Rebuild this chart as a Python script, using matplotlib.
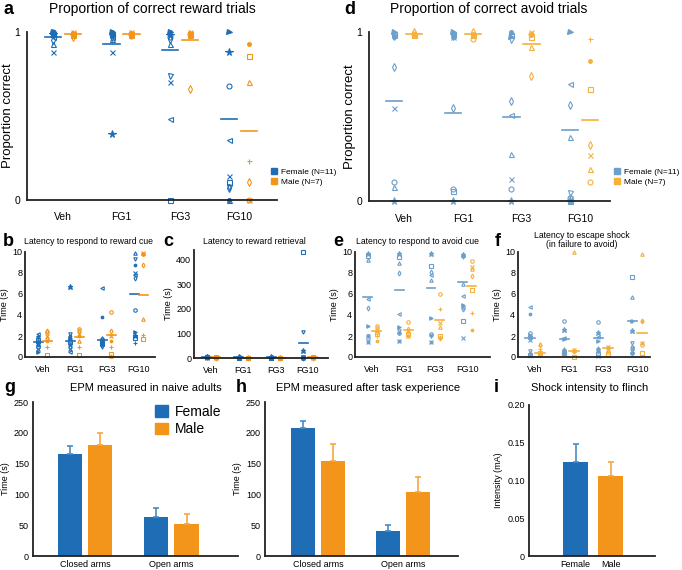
import numpy as np
import matplotlib
matplotlib.use('Agg')
import matplotlib.pyplot as plt
from matplotlib.lines import Line2D
from matplotlib.patches import Patch

plt.rcParams['font.family'] = ['Liberation Sans', 'DejaVu Sans']

W, H = 682, 570

groups = ['Veh', 'FG1', 'FG3', 'FG10']
fem_markers = ['o', '*', '^', 'v', '<', '>', 'd', 's', 'x', '+', '.']
male_markers = ['o', 'x', '^', 'd', 's', '+', '.']
hollow = {'o', '^', 'v', '<', 'd', 's'}

# colours
blue_dk, orange_dk = '#1f6eb5', '#f3951a'
blue_lt, orange_lt = '#6c9fcb', '#f6b03c'

# ---- a: proportion correct reward trials (per animal, per dose)
a_fem = [[1.0, 0.99, 0.93, 0.98, 0.97, 1.0, 0.95, 0.99, 0.88, 0.98, 1.0],
         [0.99, 0.39, 0.96, 0.98, 0.97, 1.0, 0.97, 0.99, 0.88, 0.99, 1.0],
         [0.97, 0.98, 0.93, 0.74, 0.48, 1.0, 0.96, 0.0, 0.70, 0.99, 1.0],
         [0.68, 0.88, 0.0, 0.08, 0.36, 1.0, 0.07, 0.11, 0.14, 0.0, 0.0]]
a_male = [[0.99, 1.0, 0.98, 0.97, 0.99, 1.0, 0.98],
          [0.99, 1.0, 0.98, 0.98, 0.99, 1.0, 0.99],
          [0.99, 1.0, 0.98, 0.66, 0.99, 1.0, 0.98],
          [0.0, 0.0, 0.70, 0.11, 0.86, 0.23, 0.93]]
a_fem_mean = [0.97, 0.93, 0.89, 0.48]
a_male_mean = [0.99, 0.99, 0.95, 0.41]

# ---- d: proportion correct avoid trials
d_fem = [[0.11, 0.0, 0.08, 0.97, 0.98, 1.0, 0.79, 0.99, 0.55, 0.98, 0.97],
         [0.07, 0.0, 0.98, 0.97, 0.99, 1.0, 0.55, 0.06, 0.97, 0.98, 0.99],
         [0.07, 0.0, 0.28, 0.95, 0.51, 0.97, 0.59, 0.98, 0.13, 0.99, 1.0],
         [0.02, 0.0, 0.38, 0.05, 0.69, 1.0, 0.57, 0.0, 0.01, 0.03, 0.0]]
d_male = [[0.99, 0.98, 0.99, 1.0, 0.98, 0.99, 0.98],
          [0.96, 0.98, 0.99, 1.0, 0.98, 0.99, 0.99],
          [0.99, 1.0, 0.91, 0.74, 0.97, 0.99, 0.98],
          [0.11, 0.27, 0.19, 0.33, 0.66, 0.96, 0.83]]
d_fem_mean = [0.59, 0.52, 0.50, 0.42]
d_male_mean = [0.99, 0.99, 0.93, 0.48]

# ---- b: latency to respond to reward cue (s)
b_fem = [[1.0, 1.2, 1.5, 1.8, 2.2, 0.5, 1.4, 1.6, 0.8, 2.0, 1.1],
         [1.5, 6.7, 1.2, 2.2, 0.5, 1.8, 1.0, 1.4, 0.8, 1.7, 2.0],
         [1.5, 1.2, 1.8, 1.0, 6.6, 1.4, 1.7, 1.3, 1.6, 1.1, 3.8],
         [4.5, 2.0, 9.9, 9.3, 7.8, 2.4, 7.5, 1.8, 8.0, 1.3, 8.8]]
b_male = [[2.4, 2.0, 1.8, 2.5, 0.2, 1.0, 1.5],
          [2.7, 2.2, 1.5, 2.5, 0.2, 1.0, 2.0],
          [4.3, 2.0, 0.1, 2.5, 0.3, 1.0, 1.5],
          [9.8, 9.9, 3.6, 8.8, 1.7, 2.1, 9.8]]
b_fem_mean = [1.4, 1.5, 1.6, 6.0]
b_male_mean = [1.5, 1.9, 2.1, 5.9]

# ---- c: latency to reward retrieval (s)
c_fem = [[5, 3, 8, 2, 4, 6, 3, 5, 2, 7, 4],
         [2, 3, 2, 1, 3, 2, 4, 2, 1, 3, 2],
         [2, 3, 2, 1, 3, 2, 4, 2, 1, 3, 2],
         [3, 28, 2, 107, 3, 4, 2, 430, 5, 2, 6]]
c_male = [[3, 2, 4, 2, 3, 1, 2],
          [2, 2, 3, 1, 2, 2, 3],
          [2, 2, 3, 1, 2, 2, 3],
          [3, 2, 4, 2, 3, 2, 3]]
c_fem_mean = [5, 3, 3, 60]
c_male_mean = [3, 2, 2, 3]

# ---- e: latency to respond to avoid cue (s)
e_fem = [[1.8, 9.8, 9.2, 2.0, 5.5, 3.0, 4.7, 9.6, 1.4, 2.0, 1.4],
         [2.3, 9.8, 9.0, 2.5, 4.1, 2.9, 8.0, 9.5, 1.5, 2.3, 1.5],
         [2.2, 9.8, 7.3, 2.0, 7.8, 3.7, 8.1, 8.7, 1.4, 2.0, 1.4],
         [4.8, 9.7, 7.0, 9.5, 5.8, 5.0, 4.6, 3.4, 1.8, 9.6, 9.7]]
e_male = [[3.0, 2.6, 2.4, 2.8, 2.2, 2.0, 1.5],
          [3.3, 2.0, 2.5, 2.7, 2.2, 2.0, 2.0],
          [6.0, 3.2, 2.9, 1.8, 2.0, 4.6, 1.8],
          [9.1, 8.6, 8.4, 7.7, 6.4, 4.2, 2.6]]
e_fem_mean = [5.7, 6.4, 6.6, 7.1]
e_male_mean = [2.5, 2.6, 3.5, 6.8]

# ---- f: latency to escape shock (s)
f_fem = [[2.3, 1.9, 0.4, 0.6, 4.8, 2.1, 1.8, 0.2, 1.6, 0.3, 4.1],
         [3.4, 2.6, 0.8, 0.6, 1.8, 1.7, 0.5, 0.4, 0.5, 0.7, 0.4],
         [3.3, 2.3, 0.9, 0.7, 1.9, 1.5, 0.6, 0.3, 0.1, 0.8, 0.6],
         [0.4, 2.5, 5.7, 1.3, 0.9, 3.4, 1.0, 7.6, 0.6, 3.4, 0.4]]
f_male = [[0.3, 0.2, 1.2, 1.1, 0.4, 0.8, 0.3],
          [0.6, 0.7, 10.0, 0.6, 0.0, 0.7, 0.6],
          [0.5, 1.0, 0.7, 0.9, 0.3, 0.9, 1.0],
          [1.1, 1.3, 9.8, 3.4, 0.4, 1.3, 3.4]]
f_fem_mean = [1.8, 1.7, 1.8, 3.4]
f_male_mean = [0.4, 0.6, 0.9, 2.3]

# ---- g, h, i: bar panels (mean, sem)
arms = ['Closed arms', 'Open arms']
g_fem, g_fem_err = [165, 63], [13, 15]
g_male, g_male_err = [180, 52], [19, 16]
h_fem, h_fem_err = [207, 41], [12, 9]
h_male, h_male_err = [154, 104], [28, 24]
sex = ['Female', 'Male']
i_vals, i_err = [0.125, 0.106], [0.023, 0.018]


def px_axes(fig, left, top, right, bottom):
    return fig.add_axes([left / W, 1 - bottom / H, (right - left) / W, (bottom - top) / H])


def style(ax, xsize, ysize, xpad, ypad):
    for s in ['top', 'right']:
        ax.spines[s].set_visible(False)
    for s in ['left', 'bottom']:
        ax.spines[s].set_linewidth(1.3)
        ax.spines[s].set_color('#222222')
    ax.tick_params(axis='x', length=0, labelsize=xsize, pad=xpad)
    ax.tick_params(axis='y', length=0, labelsize=ysize, pad=ypad)


def dot_panel(ax, fem, male, fem_mean, male_mean, cf, cm, off, ms, hw):
    for gi in range(len(groups)):
        for vals, marks, col, dx in ((fem[gi], fem_markers, cf, -off),
                                     (male[gi], male_markers, cm, off)):
            for v, m in zip(vals, marks):
                size = ms * 1.5 if m in ('*', '.') else ms
                ax.plot(gi + dx, v, ls='none', marker=m, ms=size, color=col,
                        mfc='none' if m in hollow else col, mew=0.8, clip_on=False)
        ax.plot([gi - off - hw, gi - off + hw], [fem_mean[gi]] * 2, color=cf, lw=1.2, clip_on=False)
        ax.plot([gi + off - hw, gi + off + hw], [male_mean[gi]] * 2, color=cm, lw=1.2, clip_on=False)
    ax.set_xticks(range(len(groups)))
    ax.set_xticklabels(groups)


def bar_pair(ax, fem, fem_err, male, male_err, off, width):
    x = np.arange(len(fem))
    ax.bar(x - off, fem, width, color=blue_dk)
    ax.bar(x + off, male, width, color=orange_dk)
    ax.errorbar(x - off, fem, yerr=[np.zeros(len(fem)), fem_err], fmt='none',
                ecolor='#4a8ac6', elinewidth=1.2, capsize=2, capthick=1.2)
    ax.errorbar(x + off, male, yerr=[np.zeros(len(male)), male_err], fmt='none',
                ecolor='#f5a840', elinewidth=1.2, capsize=2, capthick=1.2)
    ax.set_xticks(x)


fig = plt.figure(figsize=(W / 100, H / 100), dpi=100)

def label(x, y, s):
    fig.text(x / W, 1 - y / H, s, fontsize=13, fontweight='bold', va='center', ha='left')

def title(x, y, s, size):
    fig.text(x / W, 1 - y / H, s, fontsize=size, va='center', ha='center', linespacing=1.1)

# panel a
ax = px_axes(fig, 27, 32, 277, 200)
dot_panel(ax, a_fem, a_male, a_fem_mean, a_male_mean, blue_dk, orange_dk, 0.17, 3.6, 0.14)
ax.set_xlim(-0.61, 3.65)
ax.set_ylim(0, 1)
ax.set_yticks([0, 1])
ax.set_yticklabels(['0', '1'])
ax.set_ylabel('Proportion correct', fontsize=9.5, labelpad=0)
style(ax, 7.5, 7.5, 9, 5)
leg_h = [Line2D([], [], ls='none', marker='s', ms=5, color=blue_dk),
         Line2D([], [], ls='none', marker='s', ms=5, color=orange_dk)]
fig.legend(leg_h, ['Female (N=11)', 'Male (N=7)'], loc='upper left',
           bbox_to_anchor=(271 / W, 1 - 168 / H), frameon=False, fontsize=6,
           handlelength=0.8, handletextpad=0.4, labelspacing=0.25, borderaxespad=0, borderpad=0)
label(4, 9, 'a')
title(152, 9, 'Proportion of correct reward trials', 10)

# panel d
ax = px_axes(fig, 369, 32, 610, 201)
dot_panel(ax, d_fem, d_male, d_fem_mean, d_male_mean, blue_lt, orange_lt, 0.17, 3.6, 0.14)
ax.set_xlim(-0.6, 3.51)
ax.set_ylim(0, 1)
ax.set_yticks([0, 1])
ax.set_yticklabels(['0', '1'])
ax.set_ylabel('Proportion correct', fontsize=9.5, labelpad=0)
style(ax, 7.5, 7.5, 9, 5)
leg_h = [Line2D([], [], ls='none', marker='s', ms=5, color=blue_lt),
         Line2D([], [], ls='none', marker='s', ms=5, color=orange_lt)]
fig.legend(leg_h, ['Female (N=11)', 'Male (N=7)'], loc='upper left',
           bbox_to_anchor=(614 / W, 1 - 168 / H), frameon=False, fontsize=6,
           handlelength=0.8, handletextpad=0.4, labelspacing=0.25, borderaxespad=0, borderpad=0)
label(344, 9, 'd')
title(489, 9, 'Proportion of correct avoid trials', 10)

# panel b
ax = px_axes(fig, 25, 252, 155, 357)
dot_panel(ax, b_fem, b_male, b_fem_mean, b_male_mean, blue_dk, orange_dk, 0.14, 2.5, 0.14)
ax.set_xlim(-0.56, 3.5)
ax.set_ylim(0, 10)
ax.set_yticks([0, 2, 4, 6, 8, 10])
ax.set_ylabel('Time (s)', fontsize=6.5, labelpad=2)
style(ax, 6.5, 6.5, 6, 2)
label(3, 241, 'b')
title(88, 242, 'Latency to respond to reward cue', 6.2)

# panel c
ax = px_axes(fig, 194, 250, 328, 358)
dot_panel(ax, c_fem, c_male, c_fem_mean, c_male_mean, blue_dk, orange_dk, 0.14, 2.5, 0.14)
ax.set_xlim(-0.53, 3.62)
ax.set_ylim(0, 440)
ax.set_yticks([0, 100, 200, 300, 400])
ax.set_ylabel('Time (s)', fontsize=6.5, labelpad=2)
style(ax, 6.5, 6.5, 6, 2)
label(163, 241, 'c')
title(254, 242, 'Latency to reward retrieval', 6.2)

# panel e
ax = px_axes(fig, 355, 252, 490, 357)
dot_panel(ax, e_fem, e_male, e_fem_mean, e_male_mean, blue_lt, orange_lt, 0.14, 2.5, 0.14)
ax.set_xlim(-0.54, 3.72)
ax.set_ylim(0, 10)
ax.set_yticks([0, 2, 4, 6, 8, 10])
ax.set_ylabel('Time (s)', fontsize=6.5, labelpad=2)
style(ax, 6.5, 6.5, 6, 2)
label(333, 241, 'e')
title(418, 242, 'Latency to respond to avoid cue', 6.2)

# panel f
ax = px_axes(fig, 518, 252, 650, 357)
dot_panel(ax, f_fem, f_male, f_fem_mean, f_male_mean, blue_lt, orange_lt, 0.14, 2.5, 0.14)
ax.set_xlim(-0.5, 3.38)
ax.set_ylim(0, 10)
ax.set_yticks([0, 2, 4, 6, 8, 10])
ax.set_ylabel('Time (s)', fontsize=6.5, labelpad=2)
style(ax, 6.5, 6.5, 6, 2)
label(495, 241, 'f')
title(582, 240, 'Latency to escape shock\n(in failure to avoid)', 6.2)

# panel g
ax = px_axes(fig, 33, 402, 238, 556)
bar_pair(ax, g_fem, g_fem_err, g_male, g_male_err, 0.175, 0.28)
ax.set_xticklabels(arms)
ax.set_xlim(-0.6, 1.77)
ax.set_ylim(0, 250)
ax.set_yticks([0, 50, 100, 150, 200, 250])
ax.set_ylabel('Time (s)', fontsize=6.5, labelpad=3)
style(ax, 6.5, 6.5, 3, 3)
bar_h = [Patch(color=blue_dk), Patch(color=orange_dk)]
fig.legend(bar_h, sex, loc='upper left', bbox_to_anchor=(155 / W, 1 - 405 / H), frameon=False,
           fontsize=10, handlelength=0.9, handleheight=0.9, handletextpad=0.5,
           labelspacing=0.25, borderaxespad=0, borderpad=0)
label(4, 388, 'g')
title(146, 388, 'EPM measured in naive adults', 8)

# panel h
ax = px_axes(fig, 265, 402, 458, 556)
bar_pair(ax, h_fem, h_fem_err, h_male, h_male_err, 0.175, 0.28)
ax.set_xticklabels(arms)
ax.set_xlim(-0.62, 1.64)
ax.set_ylim(0, 250)
ax.set_yticks([0, 50, 100, 150, 200, 250])
ax.set_ylabel('Time (s)', fontsize=6.5, labelpad=3)
style(ax, 6.5, 6.5, 3, 3)
label(236, 388, 'h')
title(368, 388, 'EPM measured after task experience', 8)

# panel i
ax = px_axes(fig, 529, 405, 655, 556)
xi = np.arange(len(sex))
ax.bar(xi, i_vals, 0.71, color=[blue_dk, orange_dk])
ax.errorbar(xi[:1], i_vals[:1], yerr=[[0], i_err[:1]], fmt='none', ecolor='#4a8ac6',
            elinewidth=1.2, capsize=2, capthick=1.2)
ax.errorbar(xi[1:], i_vals[1:], yerr=[[0], i_err[1:]], fmt='none', ecolor='#f5a840',
            elinewidth=1.2, capsize=2, capthick=1.2)
ax.set_xticks(xi)
ax.set_xticklabels(sex)
ax.set_xlim(-1.33, 2.27)
ax.set_ylim(0, 0.20)
ax.set_yticks([0, 0.05, 0.10, 0.15, 0.20])
ax.set_yticklabels(['0', '0.05', '0.10', '0.15', '0.20'])
ax.set_ylabel('Intensity (mA)', fontsize=6.5, labelpad=3)
style(ax, 6.5, 6.5, 3, 3)
label(494, 388, 'i')
title(590, 388, 'Shock intensity to flinch', 8)

fig.savefig('out.png', dpi=100)
